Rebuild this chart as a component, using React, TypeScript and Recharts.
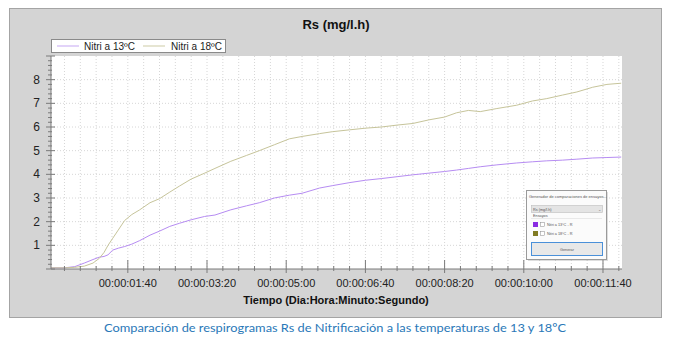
import React from "react";
import { LineChart, Line, XAxis, YAxis, CartesianGrid } from "recharts";

const times = [3, 20, 33, 45, 56, 64, 70, 75, 81, 88, 96, 105, 115, 128, 140, 153, 165, 180, 197, 210, 230, 250, 266, 285, 304, 320, 342, 358, 380, 400, 420, 440, 460, 480, 500, 515, 530, 545, 566, 591, 611, 629, 649, 667, 687, 705, 723];
const nitri13 = [0.05, 0.05, 0.1, 0.25, 0.4, 0.5, 0.53, 0.6, 0.8, 0.88, 0.95, 1.05, 1.2, 1.43, 1.6, 1.8, 1.93, 2.08, 2.22, 2.28, 2.5, 2.67, 2.8, 3.0, 3.12, 3.2, 3.42, 3.52, 3.65, 3.75, 3.82, 3.9, 3.98, 4.05, 4.12, 4.18, 4.25, 4.32, 4.4, 4.48, 4.53, 4.57, 4.6, 4.64, 4.69, 4.71, 4.73];
const nitri18 = [0.05, 0.05, 0.07, 0.12, 0.25, 0.45, 0.7, 1.0, 1.3, 1.65, 2.05, 2.3, 2.5, 2.8, 2.97, 3.25, 3.5, 3.8, 4.05, 4.25, 4.55, 4.8, 5.0, 5.25, 5.5, 5.6, 5.72, 5.8, 5.88, 5.95, 6.0, 6.08, 6.15, 6.3, 6.42, 6.6, 6.7, 6.65, 6.78, 6.92, 7.1, 7.2, 7.35, 7.48, 7.68, 7.8, 7.85];

const seriesNames = ["Nitri a 13ºC", "Nitri a 18ºC"];
const seriesColors = ["#b68cf2", "#c6c49a"];
const legendColors = ["#cfb5f5", "#d6d4b4"];
const xMajorTicks = [100, 200, 300, 400, 500, 600, 700];
const xAllTicks = Array.from({ length: 36 }, (_, i) => (i + 1) * 20);
const yMajorTicks = [1, 2, 3, 4, 5, 6, 7, 8];
const yAllTicks = Array.from({ length: 46 }, (_, i) => Math.round(i * 0.2 * 10) / 10);

const chartTitle = "Rs (mg/l.h)";
const xTitle = "Tiempo (Dia:Hora:Minuto:Segundo)";
const caption = "Comparación de respirogramas Rs de Nitrificación a las temperaturas de 13 y 18ºC";

const data = times.map((t, i) => ({ t, a: nitri13[i], b: nitri18[i] }));

const pad = (n: number) => (n < 10 ? "0" + n : "" + n);
const fmtTime = (s: number) => `00:00:${pad(Math.floor(s / 60))}:${pad(s % 60)}`;

const FONT = "'Liberation Sans', Arial, sans-serif";

const XTick = (props: any) => {
  const { x, y, payload } = props;
  const v = payload.value;
  const major = xMajorTicks.includes(v);
  return (
    <g>
      <line x1={x} x2={x} y1={major ? y - 9 : y - 3} y2={major ? y + 4 : y + 2} stroke="#7a7a7a" strokeWidth={1} />
      {major && (
        <text x={x} y={y + 18} textAnchor="middle" fontSize={11} fontFamily={FONT} fill="#222">
          {fmtTime(v)}
        </text>
      )}
    </g>
  );
};

const XTopTick = (props: any) => {
  const { x, y, payload } = props;
  const major = xMajorTicks.includes(payload.value);
  return <line x1={x} x2={x} y1={y} y2={major ? y + 5 : y + 3} stroke="#8a8a8a" strokeWidth={1} />;
};

const YTick = (props: any) => {
  const { x, y, payload } = props;
  const v = payload.value;
  const major = Math.abs(v - Math.round(v)) < 1e-6;
  const labeled = yMajorTicks.includes(Math.round(v)) && major;
  return (
    <g>
      <line x1={major ? x - 5 : x - 3} x2={major ? x + 4 : x + 1} y1={y} y2={y} stroke="#7a7a7a" strokeWidth={1} />
      {labeled && (
        <text x={x - 11} y={y + 4} textAnchor="end" fontSize={12} fontFamily={FONT} fill="#222">
          {Math.round(v)}
        </text>
      )}
    </g>
  );
};

const Dialog = () => (
  <svg width={673} height={351} style={{ position: "absolute", left: 0, top: 0, pointerEvents: "none" }}>
    <rect x={528} y={192} width={80} height={69} fill="#a0a0a0" opacity={0.35} />
    <rect x={526.5} y={190.5} width={80} height={69} fill="#fbfbfb" stroke="#9a9a9a" strokeWidth={1} />
    <text x={529} y={198} fontSize={4} fontFamily={FONT} fill="#555">Generador de comparaciones de ensayos...</text>
    <rect x={531.5} y={205.5} width={71} height={7} fill="#e4e4e4" stroke="#bdbdbd" strokeWidth={0.6} />
    <text x={533} y={210.5} fontSize={3.8} fontFamily={FONT} fill="#555">Rs (mg/l.h)</text>
    <text x={598} y={210.5} fontSize={4} fontFamily={FONT} fill="#777">⌄</text>
    <text x={533} y={217} fontSize={3.8} fontFamily={FONT} fill="#555">Ensayos</text>
    <line x1={531} x2={602} y1={218.5} y2={218.5} stroke="#dddddd" strokeWidth={0.6} />
    <rect x={533} y={222} width={5} height={5} fill="#8a2be2" />
    <rect x={540.5} y={222.5} width={4} height={4} fill="#fff" stroke="#888" strokeWidth={0.5} />
    <text x={547} y={226} fontSize={3.8} fontFamily={FONT} fill="#555">Nitri a 13ºC - R</text>
    <rect x={533} y={231} width={5} height={5} fill="#807a22" />
    <rect x={540.5} y={231.5} width={4} height={4} fill="#fff" stroke="#888" strokeWidth={0.5} />
    <text x={547} y={235} fontSize={3.8} fontFamily={FONT} fill="#555">Nitri a 18ºC - R</text>
    <rect x={531.5} y={242.5} width={71} height={13} fill="#e8e8e8" stroke="#4a90d9" strokeWidth={1} />
    <text x={567} y={250.5} textAnchor="middle" fontSize={3.8} fontFamily={FONT} fill="#555">Generar</text>
  </svg>
);

export default function App() {
  return (
    <div style={{ position: "absolute", left: 0, top: 0, width: 673, height: 351, background: "#fff", overflow: "hidden" }}>
      <div style={{ position: "absolute", left: 9, top: 8, width: 651, height: 308, background: "#d4d4d4", border: "1px solid #a4a4a4" }} />
      <div style={{ position: "absolute", left: 0, top: 0 }}>
        <LineChart width={673} height={351} data={data} margin={{ top: 56, right: 51, bottom: 62, left: 11 }}>
          <CartesianGrid fill="#ffffff" stroke="#d6d6d6" strokeDasharray="1 2" horizontalValues={yMajorTicks} verticalValues={xAllTicks} />
          <XAxis dataKey="t" type="number" domain={[3, 724]} allowDataOverflow ticks={xAllTicks} interval={0} tick={<XTick />} tickLine={false} tickSize={0} tickMargin={0} height={20} axisLine={{ stroke: "#7a7a7a" }} />
          <XAxis xAxisId="top" orientation="top" dataKey="t" type="number" domain={[3, 724]} allowDataOverflow ticks={xAllTicks} interval={0} tick={<XTopTick />} tickLine={false} tickSize={0} tickMargin={0} height={0} axisLine={{ stroke: "#9a9a9a" }} />
          <YAxis type="number" domain={[0, 9]} allowDataOverflow ticks={yAllTicks} interval={0} tick={<YTick />} tickLine={false} tickSize={0} tickMargin={0} width={40} axisLine={{ stroke: "#7a7a7a" }} />
          <YAxis yAxisId="right" orientation="right" type="number" domain={[0, 9]} tick={false} tickLine={false} width={0} axisLine={{ stroke: "#a0a0a0" }} />
          <Line dataKey="a" name={seriesNames[0]} stroke={seriesColors[0]} strokeWidth={1} dot={false} isAnimationActive={false} type="linear" />
          <Line dataKey="b" name={seriesNames[1]} stroke={seriesColors[1]} strokeWidth={1} dot={false} isAnimationActive={false} type="linear" />
        </LineChart>
      </div>
      <svg width={673} height={351} style={{ position: "absolute", left: 0, top: 0, pointerEvents: "none" }}>
        <text x={336} y={29} textAnchor="middle" fontSize={13} fontWeight="bold" fontFamily={FONT} fill="#111">{chartTitle}</text>
        <rect x={51.5} y={39.5} width={174} height={13} fill="#ffffff" stroke="#8a8a8a" strokeWidth={1} />
        <line x1={57} x2={79} y1={46} y2={46} stroke={legendColors[0]} strokeWidth={1.2} />
        <text x={84} y={49.5} fontSize={10} fontFamily={FONT} fill="#222">{seriesNames[0]}</text>
        <line x1={143} x2={165} y1={46} y2={46} stroke={legendColors[1]} strokeWidth={1.2} />
        <text x={171} y={49.5} fontSize={10} fontFamily={FONT} fill="#222">{seriesNames[1]}</text>
        <text x={336} y={304} textAnchor="middle" fontSize={11} fontWeight="bold" fontFamily={FONT} fill="#111">{xTitle}</text>
        <text x={104} y={332} fontSize={12} fontFamily="Lato, 'Open Sans', sans-serif" fill="#2a78b8" textLength={462} lengthAdjust="spacingAndGlyphs">{caption}</text>
      </svg>
      <Dialog />
    </div>
  );
}
